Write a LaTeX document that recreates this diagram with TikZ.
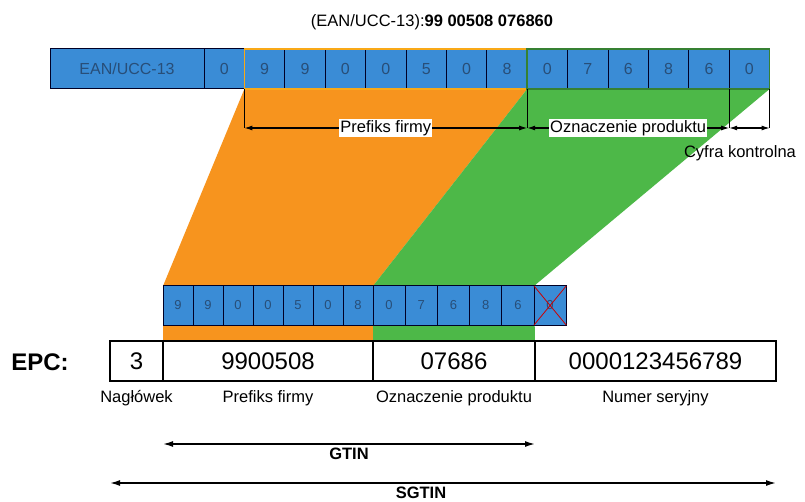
\documentclass[tikz,border=0pt]{standalone}
\usepackage{fontspec}
\setmainfont{Liberation Sans}
\usepackage{tikz}
\usetikzlibrary{arrows.meta,positioning,calc,backgrounds}

\definecolor{cellblue}{RGB}{58,140,214}
\definecolor{celltext}{RGB}{40,78,120}
\definecolor{pforange}{RGB}{247,148,30}
\definecolor{pdgreen}{RGB}{77,184,72}

\begin{document}
\begin{tikzpicture}[
  x=1pt, y=-1pt,
  tcell/.style={draw=black!85!blue, line width=1pt, fill=cellblue, text=celltext,
    minimum width=40.4pt, minimum height=40pt, inner sep=0pt, outer sep=0pt,
    font=\fontsize{16}{18}\selectfont},
  bcell/.style={draw=black!85!blue, line width=1pt, fill=cellblue, text=celltext,
    minimum height=39pt, inner sep=0pt, outer sep=0pt,
    font=\fontsize{13}{15}\selectfont},
  ebox/.style={draw, line width=1.6pt, minimum height=40pt, inner sep=0pt, outer sep=0pt,
    font=\fontsize{24}{28}\selectfont},
  lab/.style={font=\fontsize{16.5}{19}\selectfont, inner sep=1pt},
  arr/.style={{Latex[length=8pt,width=5pt]}-{Latex[length=8pt,width=5pt]}, line width=1.1pt},
  bigarr/.style={{Latex[length=10pt,width=6pt]}-{Latex[length=10pt,width=6pt]}, line width=1.5pt}
]
\useasboundingbox (0,0) rectangle (805,502);

% ===== EAN/UCC-13 =====
\node[lab] (title) at (432,22) {(EAN/UCC-13):\textbf{99 00508 076860}};
\node[tcell, minimum width=154pt, anchor=north west] (ean) at (50,49) {EAN/UCC-13};
\node[tcell, right=0pt of ean] (t0) {0};
\foreach \d [count=\i, remember=\i as \j (initially 0)] in {9,9,0,0,5,0,8,0,7,6,8,6,0}
  \node[tcell, right=0pt of t\j] (t\i) {\d};
\draw[pforange!80!yellow, line width=1.5pt] (t1.north west) rectangle (t7.south east);
\draw[pdgreen!70!black, line width=1.5pt] (t8.north west) rectangle (t13.south east);

% brackets
\coordinate (ay) at (0,128);
\foreach \c in {t1.south west, t7.south east, t12.south east, t13.south east}
  \draw[line width=1pt] (\c) -- (\c |- ay);
\draw[arr] (t1.south west |- ay) -- node[lab, fill=white] (pf) {Prefiks firmy} (t7.south east |- ay);
\draw[arr] (t7.south east |- ay) -- node[lab, fill=white] (op) {Oznaczenie produktu} (t12.south east |- ay);
\draw[arr] (t12.south east |- ay) -- (t13.south east |- ay);
\node[lab] (cyfra) at (740,153) {Cyfra kontrolna};

% ===== GTIN cells =====
\node[bcell, minimum width=30pt, anchor=north west] (b1) at (163,286) {9};
\foreach \d [count=\i from 2, remember=\i as \j (initially 1)] in {9,0,0,5,0,8,0,7,6,8,6,0} {
  \pgfmathsetmacro{\w}{\i<8 ? 30 : 32.2}
  \node[bcell, minimum width=\w pt, right=0pt of b\j] (b\i) {\d};
}
\draw[red!80!black, line width=0.8pt] (b13.north west) -- (b13.south east)
  (b13.south west) -- (b13.north east);

% ===== EPC =====
\node[font=\fontsize{24}{28}\selectfont\bfseries] (epc) at (40,362) {EPC:};
\node[ebox, minimum width=53pt, anchor=north west] (e0) at (110,341) {3};
\node[ebox, minimum width=210pt, right=0pt of e0] (e1) {9900508};
\node[ebox, minimum width=162pt, right=0pt of e1] (e2) {07686};
\node[ebox, minimum width=241pt, right=0pt of e2] (e3) {0000123456789};

\node[lab, below=8pt of e0] (nag) {Nagłówek};
\node[lab, below=8pt of e1] (pref) {Prefiks firmy};
\node[lab, below=8pt of e2] (ozn) {Oznaczenie produktu};
\node[lab, below=8pt of e3] (num) {Numer seryjny};

\coordinate (gy) at (0,444);
\coordinate (sy) at (0,483);
\draw[bigarr] (e1.west |- gy) -- node[lab, below=2pt, font=\fontsize{16.5}{19}\selectfont\bfseries] (gtin) {GTIN} (e2.east |- gy);
\draw[bigarr] (e0.west |- sy) -- node[lab, pos=0.467, below=2pt, font=\fontsize{16.5}{19}\selectfont\bfseries] (sgtin) {SGTIN} (e3.east |- sy);

% ===== mapping =====
\begin{scope}[on background layer]
\fill[pforange] (t1.south west) -- (t7.south east) -- (b7.north east) -- (e1.north east)
  -- (e1.north west) -- (b1.north west) -- cycle;
\fill[pdgreen] (t8.south west) -- (t13.south east) -- (b12.north east) -- (e2.north east)
  -- (e2.north west) -- (b8.north west) -- cycle;
\end{scope}

\end{tikzpicture}
\end{document}
